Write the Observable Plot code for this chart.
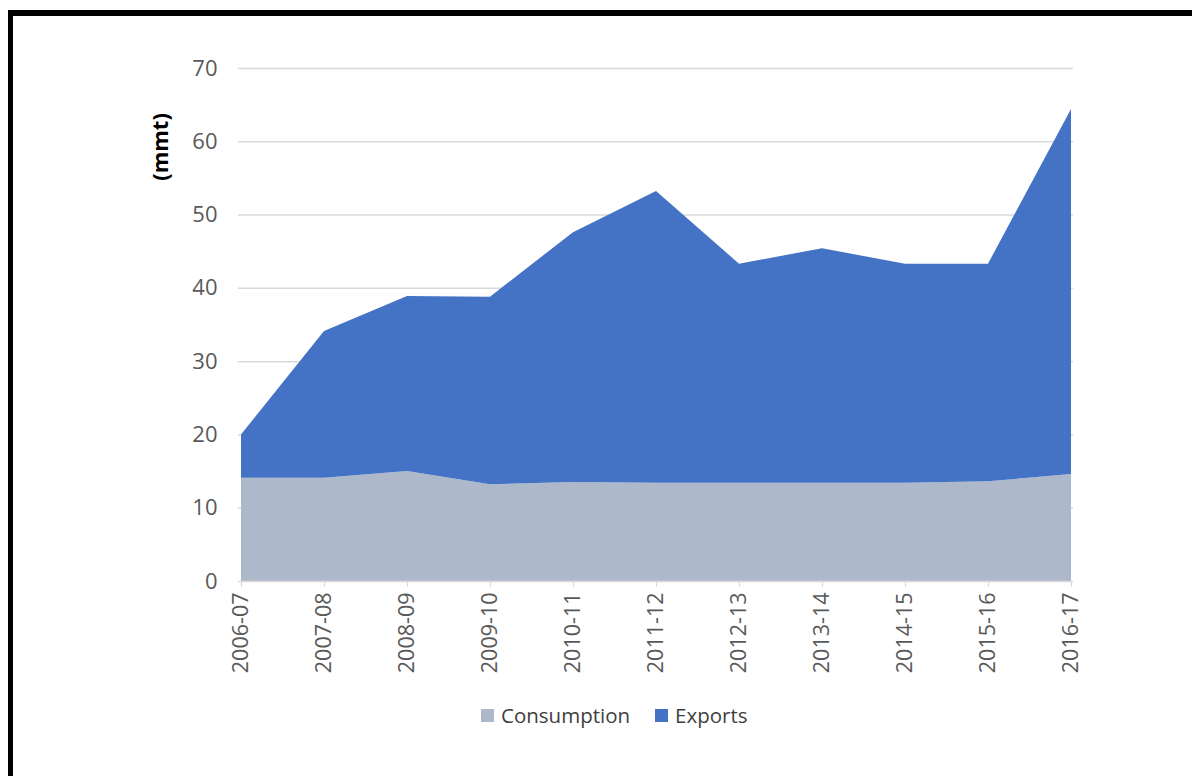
<!DOCTYPE html>
<html><head><meta charset="utf-8">
<script src="https://cdn.jsdelivr.net/npm/d3@7"></script>
<script src="https://cdn.jsdelivr.net/npm/@observablehq/plot@0.6"></script>
<style>
html,body{margin:0;padding:0;background:#fff;overflow:hidden;}
body{width:1192px;height:776px;position:relative;font-family:"Open Sans",sans-serif;}
#frame{position:absolute;left:8px;top:10px;width:1179px;height:770px;border-top:6px solid #000;border-left:5px solid #000;}
#chart{position:absolute;left:0;top:0;}
#legend{position:absolute;left:468px;top:689px;display:flex;align-items:center;font-size:20.5px;color:#404040;line-height:20px;}
#legend .item{display:flex;align-items:center;margin-right:25px;}
#legend .sw{width:13px;height:13px;margin-right:7px;}
</style>
</head><body>
<div id="frame"><div id="chart"></div><div id="legend"></div></div>
<script>
const years = ["2006-07","2007-08","2008-09","2009-10","2010-11","2011-12","2012-13","2013-14","2014-15","2015-16","2016-17"];
const consumption = [14.1, 14.1, 15.0, 13.2, 13.5, 13.4, 13.4, 13.4, 13.4, 13.6, 14.6];
const exportsVals = [5.9, 20.0, 23.9, 25.6, 34.1, 39.8, 29.9, 32.0, 29.9, 29.7, 49.8];
const yTicks = [0, 10, 20, 30, 40, 50, 60, 70];
const seriesNames = ["Consumption", "Exports"];
const seriesColors = ["#adb9ca", "#4472c4"];
const yLabel = "(mmt)";

const data = years.flatMap((yr, i) => [
  {year: yr, series: "Consumption", value: consumption[i]},
  {year: yr, series: "Exports", value: exportsVals[i]}
]);

const chart = Plot.plot({
  width: 1179,
  height: 680,
  marginLeft: 225,
  marginRight: 119,
  marginTop: 52,
  marginBottom: 115,
  style: {fontFamily: "'Open Sans', sans-serif", fontSize: "21.5px", color: "#595959", background: "transparent", overflow: "visible"},
  x: {type: "point", domain: years, padding: 0, label: null},
  y: {domain: [0, 70], label: null},
  color: {domain: seriesNames, range: seriesColors},
  marks: [
    Plot.ruleY(yTicks.filter(d => d > 0), {stroke: "#d9d9d9", strokeWidth: 1.5}),
    Plot.areaY(data, {x: "year", y: "value", fill: "series", z: "series", order: seriesNames, curve: "linear"}),
    Plot.ruleY([0], {stroke: "#d9d9d9", strokeWidth: 1.5}),
    Plot.axisY({ticks: yTicks, tickSize: 0, tickPadding: 21, fontSize: 22, label: null}),
    Plot.axisX({tickRotate: -90, tickSize: 6, tickPadding: 5, fontSize: 21.5, stroke: "#d9d9d9", fill: "#595959", label: null}),
    Plot.text([yLabel], {text: d => d, frameAnchor: "top-left", textAnchor: "middle", lineAnchor: "middle", dx: -78, dy: 78.5, rotate: -90, fontWeight: "bold", fontSize: 22, fill: "#000"})
  ]
});
document.getElementById("chart").appendChild(chart);

const legend = document.getElementById("legend");
seriesNames.forEach((name, i) => {
  const item = document.createElement("div");
  item.className = "item";
  const sw = document.createElement("span");
  sw.className = "sw";
  sw.style.background = seriesColors[i];
  const label = document.createElement("span");
  label.textContent = name;
  item.appendChild(sw);
  item.appendChild(label);
  legend.appendChild(item);
});
</script>
</body></html>
